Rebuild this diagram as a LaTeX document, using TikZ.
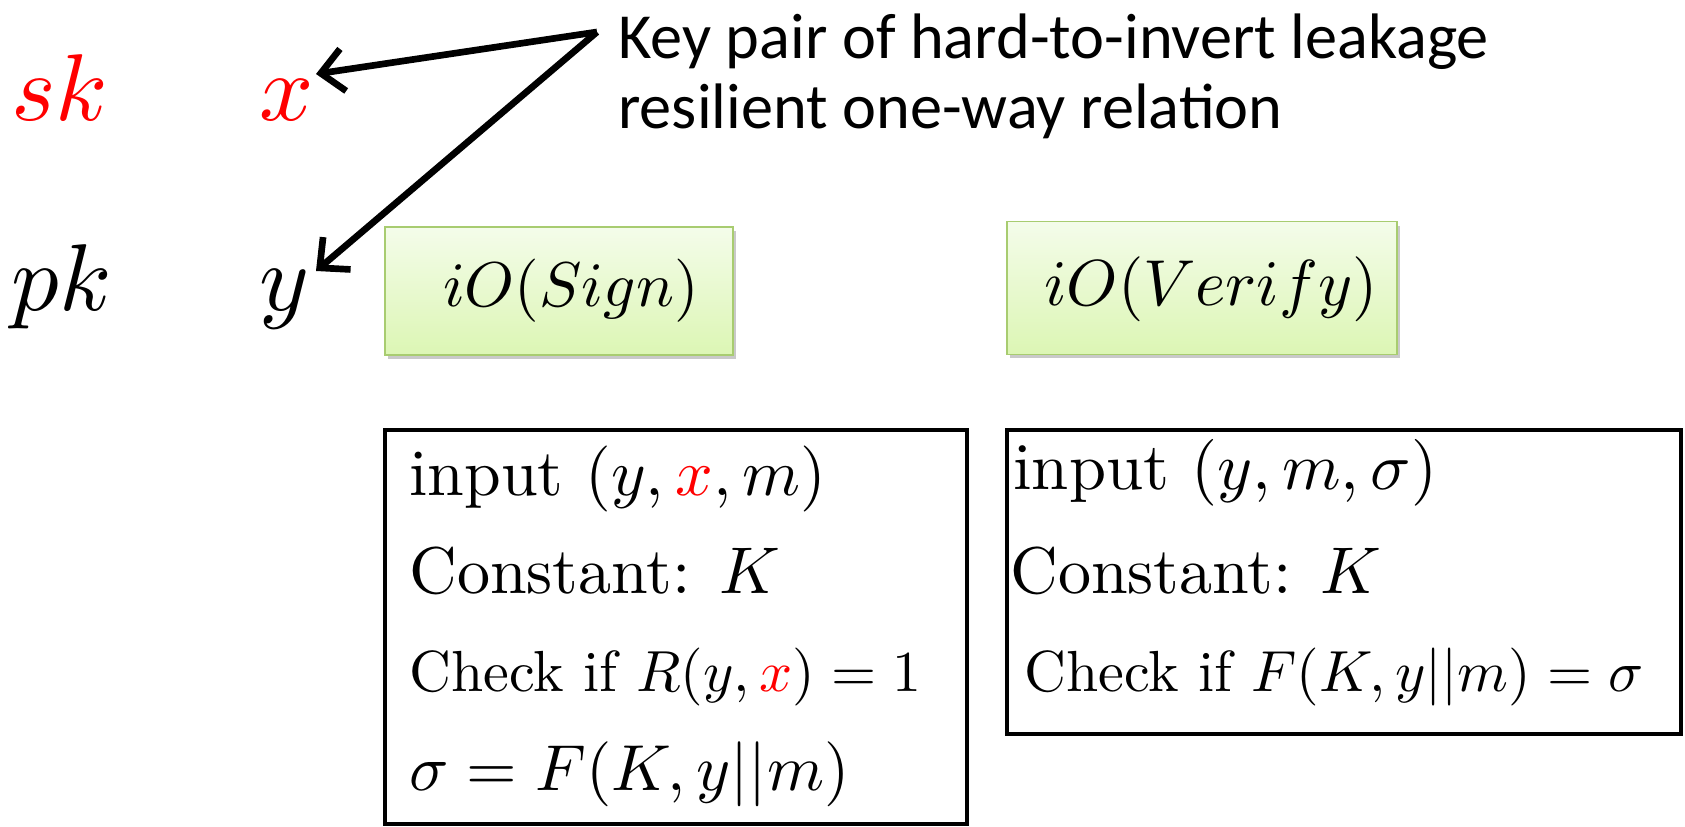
\documentclass[tikz,border=0pt]{standalone}
\usepackage{fontspec}
\setmainfont{lmroman10-regular.otf}
\newfontfamily\notefont{Carlito}
\DeclareFontShape{OML}{cmm}{m}{it}{<->cmmi10}{\skewchar\font=127}
\DeclareFontShape{OT1}{cmr}{m}{n}{<->cmr10}{}
\DeclareFontShape{OMS}{cmsy}{m}{n}{<->cmsy10}{\skewchar\font=48}
\DeclareFontShape{OMX}{cmex}{m}{n}{<->cmex10}{}
\usetikzlibrary{arrows.meta,shadows}

\definecolor{obfedge}{RGB}{168,204,112}
\definecolor{obftop}{RGB}{244,252,234}
\definecolor{obfbot}{RGB}{220,246,180}

\tikzset{
  keyvar/.style={anchor=base west,inner sep=0pt,font=\fontsize{54}{60}\selectfont},
  keynote/.style={anchor=base west,inner sep=0pt,font=\notefont\fontsize{36.6}{40}\selectfont},
  obf/.style={draw=obfedge,line width=1pt,top color=obftop,bottom color=obfbot,
    drop shadow={shadow xshift=.6mm,shadow yshift=-.8mm,opacity=.3,fill=black!70},
    inner sep=0pt},
  obflabel/.style={inner sep=0pt},
  prog/.style={draw,line width=2.2pt,inner sep=0pt},
  progline/.style={anchor=base west,inner sep=0pt,font=\fontsize{37.6}{44}\selectfont},
  checkline/.style={progline,font=\fontsize{33}{40}\selectfont},
  pointer/.style={line width=3.8pt,-{Straight Barb[length=4.5mm,width=8.5mm]}}
}

\begin{document}
\begin{tikzpicture}[x=.02cm,y=-.02cm]
  \useasboundingbox (0,0) rectangle (1685,827);

  % keys
  \node[keyvar,text=red] (sk) at (11,121) {$sk$};
  \node[keyvar,text=red] (xsec) at (259,121) {$x$};
  \node[keyvar] (pk) at (11,311) {$pk$};
  \node[keyvar] (ypub) at (259,311) {$y$};

  \node[keynote] (note1) at (618,59) {Key pair of hard-to-invert leakage};
  \node[keynote] (note2) at (618,129) {resilient one-way relation};
  \coordinate (keytip) at (597,32);
  \coordinate (xtip) at (316,74);
  \coordinate (ytip) at (316,271);
  \draw[pointer] (keytip) -- (xtip);
  \draw[pointer] (keytip) -- (ytip);

  % obfuscated programs
  \node[obf,minimum width=6.96cm,minimum height=2.56cm] (signo) at (559,291) {};
  \node[obflabel,font=\fontsize{36}{42}\selectfont] (signlbl) at (571,291) {$iO(Sign)$};
  \node[obf,minimum width=7.8cm,minimum height=2.66cm] (verifyo) at (1202,288) {};
  \node[obflabel,font=\fontsize{37}{42}\selectfont] (verifylbl) at (1211,289) {$iO(Verify)$};

  \node[prog,minimum width=11.64cm,minimum height=7.88cm] (signbox) at (676,627) {};
  \node[progline] (sign1) at (409,496) {input $(y,{\color{red}x},m)$};
  \node[progline] (sign2) at (409,594) {Constant: $K$};
  \node[checkline] (sign3) at (409,691) {Check if $R(y,{\color{red}x})=1$};
  \node[progline,font=\fontsize{37}{44}\selectfont] (sign4) at (409,790) {$\sigma=F(K,y||m)$};

  \node[prog,minimum width=13.48cm,minimum height=6.08cm] (verifybox) at (1344,582) {};
  \node[progline,font=\fontsize{38}{44}\selectfont] (ver1) at (1013,490) {input $(y,m,\sigma)$};
  \node[progline] (ver2) at (1010,594) {Constant: $K$};
  \node[checkline] (ver3) at (1024,691) {Check if $F(K,y||m)=\sigma$};
\end{tikzpicture}
\end{document}
